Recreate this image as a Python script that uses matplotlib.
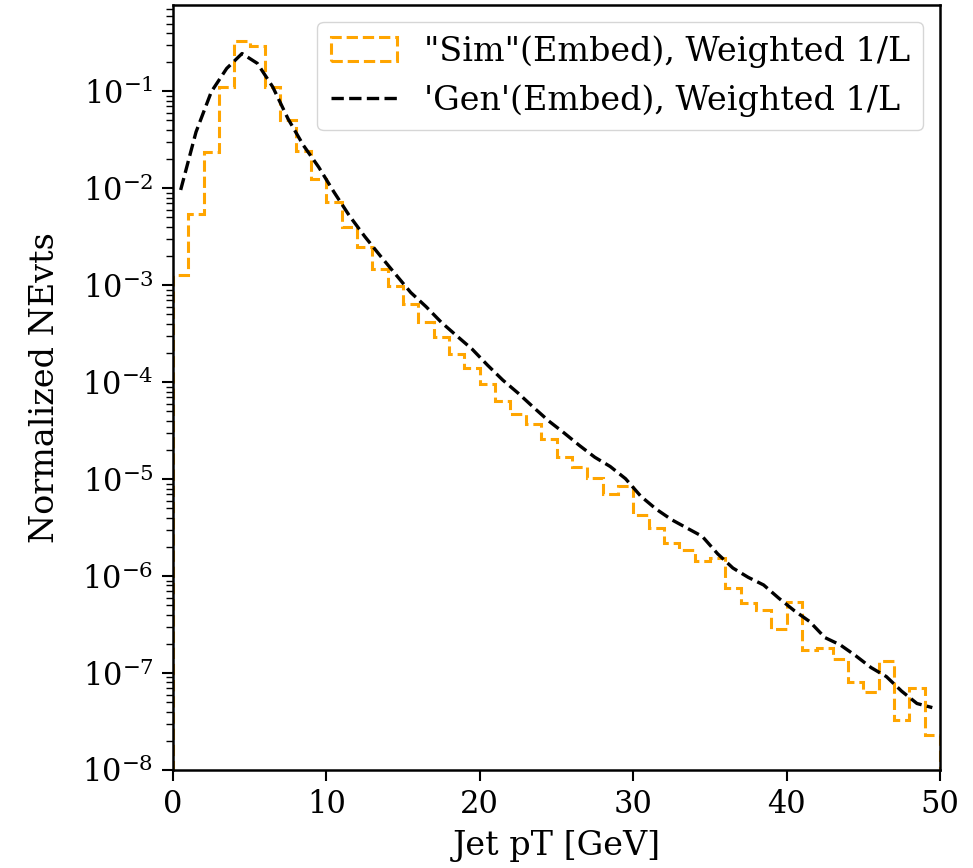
import numpy as np
import matplotlib
matplotlib.use("Agg")
import matplotlib.pyplot as plt
from matplotlib.ticker import LogLocator

# Bin edges (1 GeV bins from 0 to 50)
bin_edges = list(range(0, 51))

# "Sim"(Embed) histogram contents per bin
sim_values = [
    1.26e-3, 5.45e-3, 2.36e-2, 1.11e-1, 3.30e-1, 2.92e-1, 1.11e-1, 5.1e-2, 2.45e-2, 1.25e-2,
    7.2e-3, 3.96e-3, 2.46e-3, 1.47e-3, 9.7e-4, 6.4e-4, 4.2e-4, 2.9e-4, 1.95e-4, 1.41e-4,
    9.5e-5, 6.4e-5, 4.66e-5, 3.7e-5, 2.6e-5, 1.68e-5, 1.34e-5, 1.03e-5, 7.0e-6, 8.4e-6,
    4.3e-6, 3.13e-6, 2.19e-6, 1.87e-6, 1.42e-6, 1.53e-6, 7.5e-7, 5.3e-7, 4.5e-7, 2.85e-7,
    5.46e-7, 1.73e-7, 1.83e-7, 1.40e-7, 8.1e-8, 6.4e-8, 1.33e-7, 3.3e-8, 7.0e-8, 2.3e-8,
]

# 'Gen'(Embed) values at bin centres
gen_x = [i + 0.5 for i in range(50)]
gen_values = [
    9.6e-3, 3.8e-2, 9.9e-2, 1.72e-1, 2.45e-1, 1.94e-1, 1.11e-1, 5.2e-2, 2.77e-2, 1.65e-2,
    9.1e-3, 5.2e-3, 3.18e-3, 2.02e-3, 1.30e-3, 8.4e-4, 6.0e-4, 4.13e-4, 3.0e-4, 2.19e-4,
    1.50e-4, 1.05e-4, 7.7e-5, 5.5e-5, 3.97e-5, 2.99e-5, 2.22e-5, 1.68e-5, 1.35e-5, 1.01e-5,
    6.65e-6, 4.9e-6, 3.82e-6, 3.13e-6, 2.57e-6, 1.70e-6, 1.21e-6, 9.7e-7, 8.1e-7, 5.9e-7,
    4.4e-7, 3.4e-7, 2.32e-7, 1.95e-7, 1.51e-7, 1.14e-7, 9.2e-8, 6.5e-8, 4.85e-8, 4.4e-8,
]

# Tick positions
y_major_ticks = [1e-8, 1e-7, 1e-6, 1e-5, 1e-4, 1e-3, 1e-2, 1e-1]
x_major_ticks = [0, 10, 20, 30, 40, 50]

plt.rcParams['font.family'] = ['DejaVu Serif']
plt.rcParams['font.size'] = 21

fig = plt.figure(figsize=(9.73, 8.68), dpi=100)
ax = fig.add_axes([173/973, 1 - 770/868, (940 - 173)/973, (770 - 5)/868])

centers = [(bin_edges[i] + bin_edges[i + 1]) / 2 for i in range(len(sim_values))]
ax.hist(centers, bins=bin_edges, weights=sim_values, histtype='step',
        linestyle='--', color='orange', linewidth=2.2,
        label='"Sim"(Embed), Weighted 1/L')
ax.plot(gen_x, gen_values, linestyle='--', color='black', linewidth=2.4,
        label="'Gen'(Embed), Weighted 1/L")

ax.set_yscale('log')
ax.set_xlim(0, 50)
ax.set_ylim(1e-8, 0.776)
ax.set_yticks(y_major_ticks)
ax.set_xticks(x_major_ticks)
ax.yaxis.set_minor_locator(LogLocator(base=10, subs=np.arange(2, 10), numticks=20))
ax.set_xlabel('Jet pT [GeV]', fontsize=24, labelpad=7)
ax.set_ylabel('Normalized NEvts', fontsize=24, labelpad=15)

for s in ax.spines.values():
    s.set_linewidth(1.8)
ax.tick_params(which='major', length=8, width=1.5, pad=6, labelsize=22)
ax.tick_params(which='minor', length=5, width=1.0)

ax.legend(loc='upper right', fontsize=24)

fig.savefig('out.png', dpi=100)
